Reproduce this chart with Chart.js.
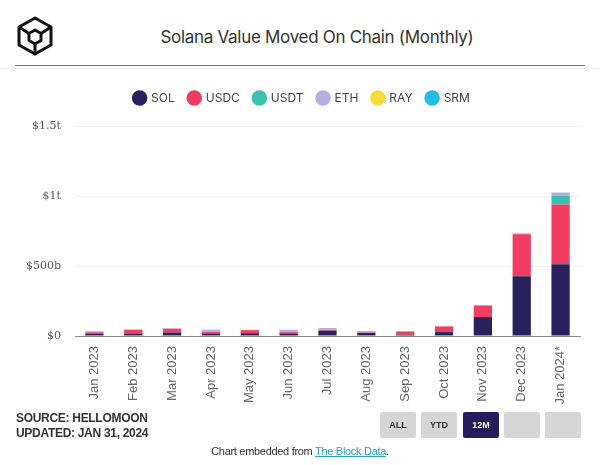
<!DOCTYPE html>
<html>
<head>
<meta charset="utf-8">
<script src="https://cdn.jsdelivr.net/npm/chart.js@4"></script>
<style>
  body { margin:0; width:600px; height:465px; background:#fff; font-family:"Liberation Sans", Arial, sans-serif; position:relative; overflow:hidden; }
  #logo { position:absolute; left:15px; top:16px; }
  #title { position:absolute; left:34px; right:0; top:27px; text-align:center; font-family:Inter, "Noto Sans", sans-serif; font-size:17px; color:#333; letter-spacing:-0.3px; }
  #rule { position:absolute; left:15px; width:570px; top:65px; height:1px; background:#9b5aa8; }
  #rule2 { position:absolute; left:0; width:600px; top:68px; height:1px; background:#eee; }
  #wrap { position:absolute; left:0; top:78px; width:600px; height:334px; }
  #source { position:absolute; left:16px; top:411px; font-family:"Liberation Sans Narrow", "Liberation Sans", sans-serif; font-weight:bold; font-size:12px; line-height:15px; color:#333; letter-spacing:-0.3px; }
  .btn { position:absolute; top:412px; width:36px; height:26px; background:#d6d6d6; font-size:9px; font-weight:bold; color:#333; text-align:center; line-height:26px; border-radius:2px; }
  #foot { position:absolute; left:0; right:0; top:445px; text-align:center; font-size:11px; color:#333; letter-spacing:-0.3px; }
  #foot a { color:#2a9fb6; text-decoration:underline; }
</style>
</head>
<body>
<svg id="logo" width="40" height="40" viewBox="0 0 40 40">
  <g fill="none" stroke="#111" stroke-width="3" stroke-linejoin="round">
    <polygon points="20,2 36,11 36,29 20,38 4,29 4,11"/>
    <polygon points="20,14 26,17.5 26,24.5 20,28 14,24.5 14,17.5"/>
    <line x1="4" y1="11" x2="14" y2="17.5"/>
    <line x1="36" y1="11" x2="26" y2="17.5"/>
    <line x1="20" y1="38" x2="20" y2="28"/>
  </g>
</svg>
<div id="title">Solana Value Moved On Chain (Monthly)</div>
<div id="rule"></div>
<div id="rule2"></div>
<div id="wrap"><canvas id="chart"></canvas></div>
<div id="source">SOURCE: HELLOMOON<br>UPDATED: JAN 31, 2024</div>
<div class="btn" style="left:380px">ALL</div>
<div class="btn" style="left:421px">YTD</div>
<div class="btn" style="left:463px;background:#231d5a;color:#fff">12M</div>
<div class="btn" style="left:504px"></div>
<div class="btn" style="left:545px"></div>
<div id="foot">Chart embedded from <a>The Block Data</a>.</div>
<script>
// months
const labels = ['Jan 2023','Feb 2023','Mar 2023','Apr 2023','May 2023','Jun 2023','Jul 2023','Aug 2023','Sep 2023','Oct 2023','Nov 2023','Dec 2023','Jan 2024*'];

// values in billions USD
const sol  = [18, 18, 25, 18, 20, 18, 38, 22, 10, 28, 135, 427, 512];
const usdc = [8, 25, 27, 12, 22, 10, 4, 2, 22, 40, 82, 300, 427];
const usdt = [0, 0, 0, 0, 0, 0, 0, 0, 0, 0, 2, 4, 62];
const eth  = [9, 5, 3, 15, 3, 17, 15, 12, 2, 2, 1, 2, 24];
const ray  = [0, 0, 0, 0, 0, 0, 0, 0, 0, 0, 0, 0, 0];
const srm  = [0, 0, 0, 0, 0, 0, 0, 0, 0, 0, 0, 0, 0];

const yTicks = [0, 500, 1000, 1500];
const yTickText = ['$0', '$500b', '$1t', '$1.5t'];

function ds(label, data, color) {
    return { label: label, data: data, backgroundColor: color, borderWidth: 0, barPercentage: 0.47, categoryPercentage: 1 };
}

// extra room under the legend, and nudge it to the right
const legendPad = {
    id: 'legendPad',
    beforeInit(chart) {
        const fit = chart.legend.fit;
        chart.legend.fit = function() { fit.bind(chart.legend)(); this.height += 12; };
    },
    afterLayout(chart) {
        chart.legend.left += 12;
        chart.legend.right += 12;
    }
};

new Chart(document.getElementById('chart'), {
    type: 'bar',
    data: { labels: labels, datasets: [
        ds('SOL', sol, '#29215c'),
        ds('USDC', usdc, '#f03e63'),
        ds('USDT', usdt, '#3bbfae'),
        ds('ETH', eth, '#b4afe0'),
        ds('RAY', ray, '#f6dc3c'),
        ds('SRM', srm, '#22bde2')
    ]},
    options: {
        responsive: true,
        maintainAspectRatio: false,
        animation: false,
        layout: { padding: { left: 0, right: 20, top: 0, bottom: 0 } },
        plugins: {
            title: { display: false },
            tooltip: { enabled: false },
            legend: {
                position: 'top',
                labels: { usePointStyle: true, pointStyle: 'circle', boxWidth: 11, boxHeight: 11, padding: 14, color: '#444', font: { family: 'Inter, "Noto Sans", sans-serif', size: 12 } }
            }
        },
        scales: {
            x: {
                stacked: true,
                grid: { display: false, drawTicks: false },
                border: { color: '#888', width: 1 },
                ticks: { color: '#666', minRotation: 90, maxRotation: 90, padding: 10, font: { family: '"Liberation Sans", Arial, sans-serif', size: 13 } },
                afterFit(scale) { scale.height = 76; }
            },
            y: {
                stacked: true,
                min: 0, max: 1500,
                afterBuildTicks(scale) { scale.ticks = yTicks.map(v => ({ value: v })); },
                grid: { color: '#f1f1f1', drawTicks: false },
                border: { display: false },
                ticks: { color: '#555', padding: 14, font: { family: '"DejaVu Serif", serif', size: 11 }, callback: (v) => yTickText[yTicks.indexOf(v)] },
                afterFit(scale) { scale.width = 75; }
            }
        }
    },
    plugins: [legendPad]
});
</script>
</body>
</html>
